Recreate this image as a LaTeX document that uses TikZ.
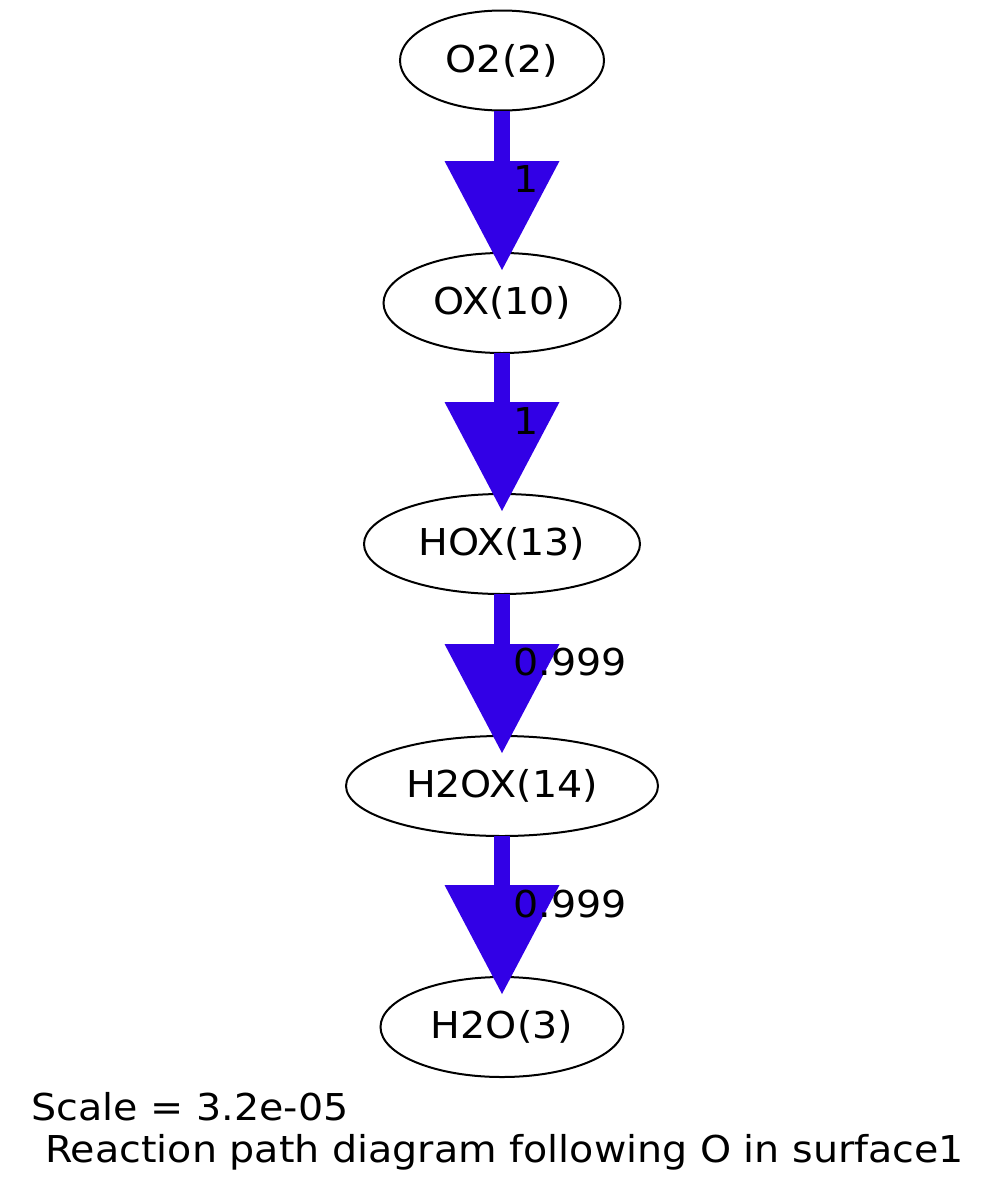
\documentclass[tikz,border=0pt]{standalone}
\usepackage{fontspec}
\setmainfont{DejaVu Sans}[FakeStretch=1.07]
\usetikzlibrary{arrows.meta,shapes.geometric}
\definecolor{flux}{RGB}{50,0,230}
\begin{document}
\begin{tikzpicture}[x=1pt,y=-1pt,
  species/.style={draw=black,line width=2pt,ellipse,inner sep=0pt,outer sep=0pt,minimum height=100pt,font=\fontsize{37}{44}\selectfont},
  flow/.style={draw=flux,line width=16pt,-{Triangle[width=115pt,length=109pt,line width=0pt]},shorten >=-17pt},
  flowlabel/.style={anchor=base west,inner sep=0pt,font=\fontsize{37}{44}\selectfont},
  caption/.style={anchor=base west,inner sep=0pt,font=\fontsize{37}{44}\selectfont}]
\useasboundingbox (0,0) rectangle (1003,1194);
\node[species,minimum width=204pt] (o2) at (502,60.5) {O2(2)};
\node[species,minimum width=237pt] (ox) at (502,303) {OX(10)};
\node[species,minimum width=276pt] (hox) at (502,544) {HOX(13)};
\node[species,minimum width=312pt] (h2ox) at (502,786) {H2OX(14)};
\node[species,minimum width=243pt] (h2o) at (502,1027) {H2O(3)};
\draw[flow] (o2) -- (ox);
\draw[flow] (ox) -- (hox);
\draw[flow] (hox) -- (h2ox);
\draw[flow] (h2ox) -- (h2o);
\node[flowlabel] (l1) at (513.5,192) {1};
\node[flowlabel] (l2) at (513.5,434) {1};
\node[flowlabel] (l3) at (513.5,675.5) {0.999};
\node[flowlabel] (l4) at (513.5,917.5) {0.999};
\node[caption] (c1) at (31.5,1120) {Scale = 3.2e-05};
\node[caption] (c2) at (45,1162) {Reaction path diagram following O in surface1};
\end{tikzpicture}
\end{document}
